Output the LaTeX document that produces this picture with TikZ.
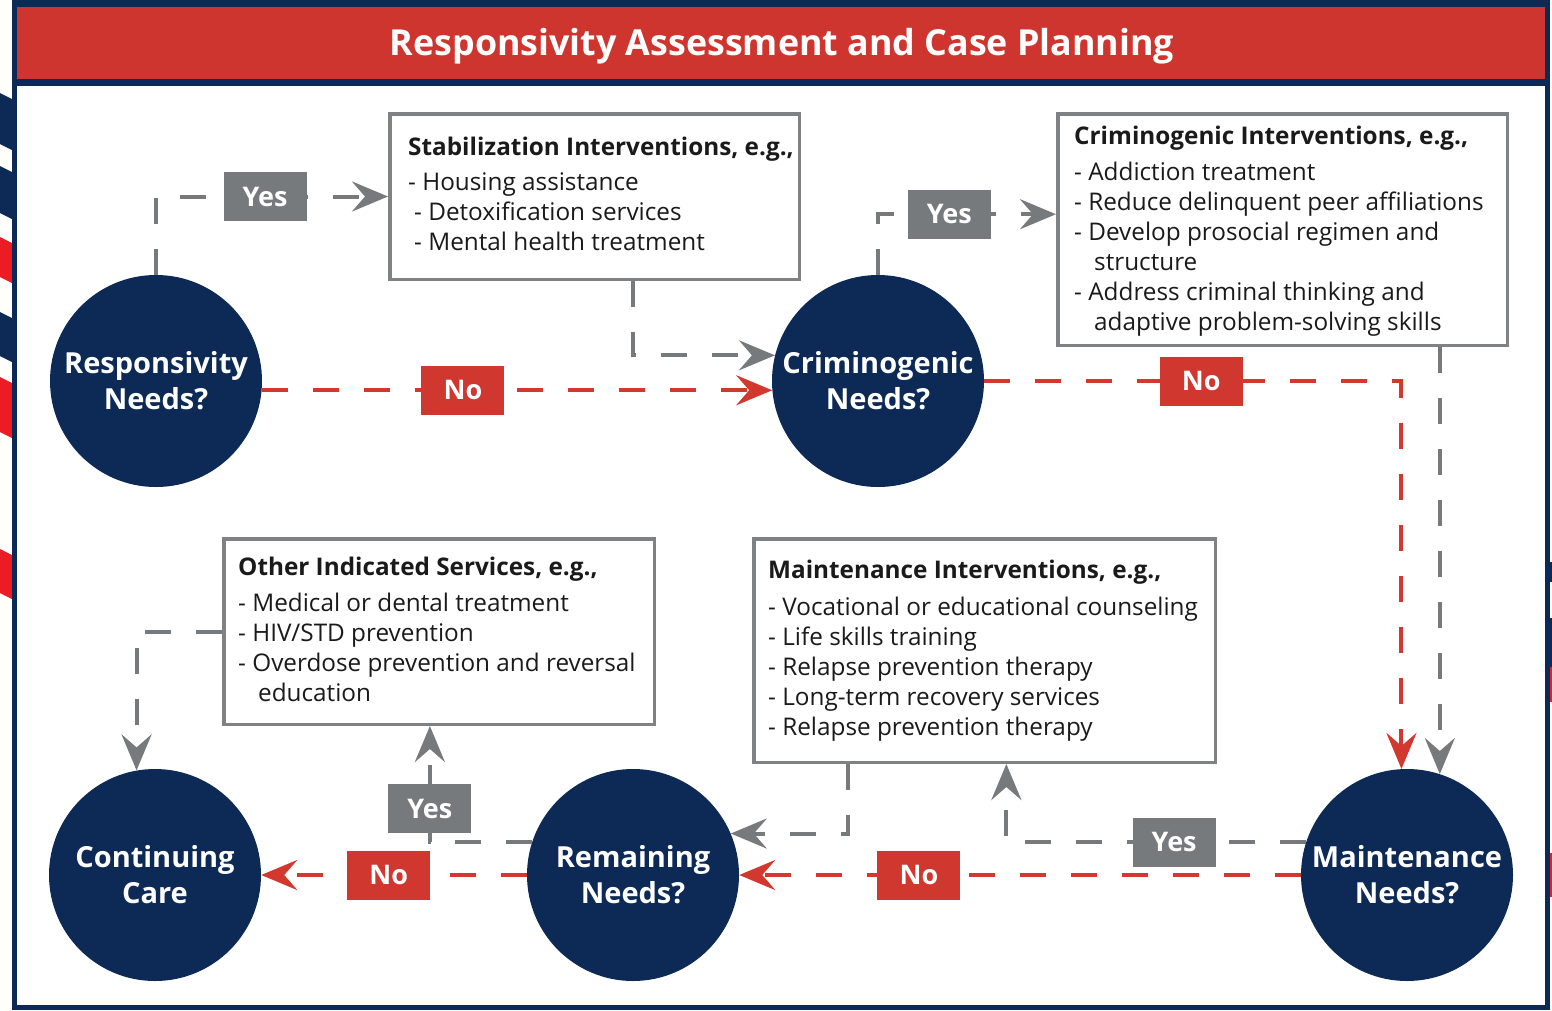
\documentclass[tikz,border=0pt]{standalone}
\usepackage{fontspec}
\setmainfont{Open Sans}
\usetikzlibrary{arrows.meta,calc}

\definecolor{navy}{HTML}{0C2A55}
\definecolor{hdrred}{HTML}{CF352F}
\definecolor{lblred}{HTML}{D0382F}
\definecolor{linered}{HTML}{D3382F}
\definecolor{gry}{HTML}{767A7D}
\definecolor{boxgrey}{HTML}{7E8285}
\definecolor{stripered}{HTML}{EC1C24}
\definecolor{txt}{HTML}{1A1A1A}

\begin{document}
\begin{tikzpicture}[x=1pt,y=-1pt,
  needc/.style={circle, fill=navy, minimum size=212pt, inner sep=0pt, text=white,
    font=\fontsize{29}{36}\selectfont\bfseries, align=center},
  ibox/.style={draw=boxgrey, line width=3.5pt, fill=white, inner sep=0pt},
  itext/.style={anchor=north west, inner sep=0pt, align=left, text=txt,
    font=\fontsize{24.3}{30}\selectfont},
  lbl/.style={minimum width=83pt, minimum height=49pt, inner sep=0pt, text=white,
    font=\fontsize{27}{30}\selectfont\bfseries},
  yeslbl/.style={lbl, fill=gry},
  nolbl/.style={lbl, fill=lblred},
  gline/.style={draw=gry, line width=4pt, dash pattern=on 26pt off 25pt,
    -{Stealth[length=36pt,width=30pt,inset=13pt]}},
  rline/.style={gline, draw=linered},
]
\useasboundingbox (0,0) rectangle (1552,1010);
\fill[white] (0,0) rectangle (1552,1010);

% slanted stripes peeking out beside the frame
\foreach \ya/\yb/\c in {93/144/navy, 166/213/navy, 237/277/stripered, 312/356/navy,
                        377/432/stripered, 549/593/stripered}{
  \fill[\c] (0,\ya) -- (14,\ya+7) -- (14,\yb+7) -- (0,\yb) -- cycle;
}
\foreach \ya/\yb/\c in {562/582/navy, 618/667/navy, 667/702/stripered, 853/897/stripered}{
  \fill[\c] (1546,\ya) rectangle (1552,\yb);
}

% frame and header
\fill[navy] (12,0) rectangle (1550,86);
\fill[hdrred] (17,7) rectangle (1545,79);
\draw[navy, line width=5pt] (14.5,3) rectangle (1547.5,1007);
\node[font=\fontsize{35.8}{40}\selectfont\bfseries, text=white] (title) at (782,46)
  {Responsivity Assessment and Case Planning};

% decision circles
\node[needc] (resp)  at (156,381) {Responsivity\\Needs?};
\node[needc] (crim)  at (878,381) {Criminogenic\\Needs?};
\node[needc] (cont)  at (155,875) {Continuing\\Care};
\node[needc] (rem)   at (633,875) {Remaining\\Needs?};
\node[needc] (maint) at (1407,875) {Maintenance\\Needs?};

% intervention boxes
\node[ibox, minimum width=409.5pt, minimum height=165.5pt] (stab) at (594.5,196.5) {};
\node[itext] (stabtxt) at (408,136.7)
  {\textbf{Stabilization Interventions, e.g.,}\\[5pt]
   - Housing assistance\\
   \hspace*{6pt}- Detoxification services\\
   \hspace*{6pt}- Mental health treatment};

\node[ibox, minimum width=449.5pt, minimum height=231.5pt] (crimint) at (1282.5,229.5) {};
\node[itext] (crimtxt) at (1074,125.7)
  {\textbf{Criminogenic Interventions, e.g.,}\\[6pt]
   - Addiction treatment\\
   - Reduce delinquent peer affiliations\\
   - Develop prosocial regimen and\\
   \hspace*{20pt}structure\\
   - Address criminal thinking and\\
   \hspace*{20pt}adaptive problem-solving skills};

\node[ibox, minimum width=430.5pt, minimum height=185.5pt] (other) at (439,631.5) {};
\node[itext] (othertxt) at (238,556.7)
  {\textbf{Other Indicated Services, e.g.,}\\[6pt]
   - Medical or dental treatment\\
   - HIV/STD prevention\\
   - Overdose prevention and reversal\\
   \hspace*{20pt}education};

\node[ibox, minimum width=461.5pt, minimum height=223.5pt] (maintint) at (984.5,650.5) {};
\node[itext] (mainttxt) at (768,559.7)
  {\textbf{Maintenance Interventions, e.g.,}\\[7pt]
   - Vocational or educational counseling\\
   - Life skills training\\
   - Relapse prevention therapy\\
   - Long-term recovery services\\
   - Relapse prevention therapy};

% connectors
\draw[gline] (resp.north) |- node[yeslbl, pos=0.735] (y1) {Yes} (stab.west);
\draw[gline] ($(stab.south west)!0.593!(stab.south east)$) |- (crim.166);
\draw[rline] (resp.-5) -- node[nolbl, pos=0.394] (n1) {No} (crim.185);
\draw[gline] (crim.north) |- node[yeslbl, pos=0.70] (y2) {Yes}
  ($(crimint.north west)!0.435!(crimint.south west)$);
\draw[rline] (crim.east) -| node[nolbl, pos=0.26] (n2) {No} (maint.93.2);
\draw[gline] (maint.72.4 |- crimint.south) -- (maint.72.4);
\draw[gline] (maint.162.4) -| node[yeslbl, pos=0.22] (y3) {Yes}
  ($(maintint.south west)!0.547!(maintint.south east)$);
\draw[rline] (maint.west) -- node[nolbl, pos=0.68] (n3) {No} (rem.east);
\draw[gline] ($(maintint.south west)!0.2065!(maintint.south east)$) |- (rem.23.3);
\draw[gline] (rem.162.4) -| node[yeslbl, pos=0.645] (y4) {Yes}
  ($(other.south west)!0.479!(other.south east)$);
\draw[rline] (rem.west) -- node[nolbl, pos=0.52] (n4) {No} (cont.east);
\draw[gline] (other.west) -| (cont.100.9);
\end{tikzpicture}
\end{document}
